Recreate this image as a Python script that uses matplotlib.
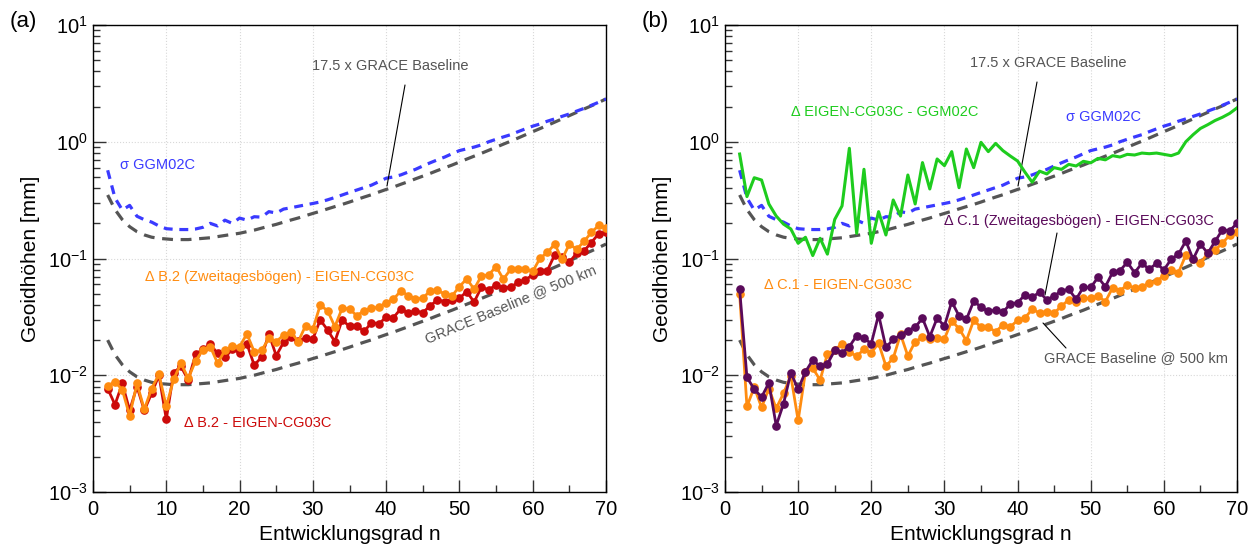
import numpy as np
import matplotlib
matplotlib.use("Agg")
import matplotlib.pyplot as plt
from matplotlib.ticker import LogLocator, MultipleLocator, NullFormatter

plt.rcParams['font.family'] = ['Liberation Sans', 'DejaVu Sans']
plt.rcParams['mathtext.fontset'] = 'custom'
plt.rcParams['mathtext.rm'] = 'Liberation Sans'
plt.rcParams['mathtext.it'] = 'Liberation Sans:italic'
plt.rcParams['mathtext.bf'] = 'Liberation Sans:bold'

# ---------------- data ----------------
degree = list(range(2, 71))
grace_factor = 17.5

grace_500km = [0.0200, 0.0150, 0.0123, 0.0107, 0.0097, 0.0091, 0.0087, 0.0085, 0.0084, 0.0083,
               0.0083, 0.0083, 0.0084, 0.0085, 0.0086, 0.0088, 0.0090, 0.0092, 0.0094, 0.0097,
               0.0100, 0.0104, 0.0108, 0.0112, 0.0117, 0.0122, 0.0127, 0.0133, 0.0139, 0.0145,
               0.0152, 0.0159, 0.0166, 0.0174, 0.0183, 0.0192, 0.0201, 0.0212, 0.0223, 0.0234,
               0.0247, 0.0260, 0.0275, 0.0290, 0.0306, 0.0324, 0.0342, 0.0361, 0.0383, 0.0406,
               0.0430, 0.0455, 0.0483, 0.0513, 0.0545, 0.0578, 0.0615, 0.0655, 0.0697, 0.0741,
               0.0789, 0.0841, 0.0897, 0.0957, 0.102, 0.109, 0.116, 0.124, 0.133]

sigma_ggm02c = [0.57, 0.33, 0.26, 0.285, 0.23, 0.215, 0.205, 0.19, 0.18, 0.178,
                0.177, 0.177, 0.179, 0.185, 0.20, 0.19, 0.213, 0.200, 0.222, 0.213,
                0.228, 0.226, 0.252, 0.245, 0.265, 0.272, 0.280, 0.288, 0.296, 0.305,
                0.318, 0.333, 0.350, 0.368, 0.386, 0.405, 0.425, 0.455, 0.487, 0.50,
                0.52, 0.55, 0.58, 0.62, 0.66, 0.70, 0.74, 0.79, 0.84, 0.87,
                0.90, 0.94, 1.00, 1.05, 1.10, 1.15, 1.22, 1.29, 1.36, 1.42,
                1.50, 1.57, 1.65, 1.73, 1.83, 1.93, 2.05, 2.18, 2.32]

b2_eigen = [0.0077, 0.0056, 0.0085, 0.0050, 0.0080, 0.0050, 0.0070, 0.0100, 0.0042, 0.0105,
            0.0119, 0.0091, 0.0151, 0.0167, 0.0184, 0.0154, 0.0142, 0.0167, 0.0156, 0.0186,
            0.0122, 0.0143, 0.0226, 0.0147, 0.0191, 0.0212, 0.0197, 0.0208, 0.0204, 0.0298,
            0.0245, 0.0194, 0.0298, 0.0262, 0.0265, 0.0237, 0.0283, 0.0276, 0.0314, 0.0312,
            0.0371, 0.0340, 0.0356, 0.0344, 0.0393, 0.0442, 0.0428, 0.0442, 0.0457, 0.0521,
            0.0423, 0.0568, 0.0539, 0.0594, 0.0557, 0.0568, 0.0623, 0.0656, 0.0724, 0.0789,
            0.0789, 0.1075, 0.1026, 0.093, 0.111, 0.116, 0.137, 0.163, 0.168]

b2_zweitag = [0.0081, 0.0088, 0.0075, 0.0045, 0.0085, 0.0051, 0.0077, 0.0102, 0.0054, 0.0092,
              0.0127, 0.0094, 0.0133, 0.0165, 0.0176, 0.0127, 0.0163, 0.0178, 0.0176, 0.0226,
              0.0159, 0.0163, 0.0207, 0.0194, 0.0221, 0.0235, 0.0194, 0.0265, 0.0248, 0.0398,
              0.0358, 0.0261, 0.0375, 0.0370, 0.0323, 0.0358, 0.0375, 0.0383, 0.0419, 0.0448,
              0.0528, 0.0482, 0.0451, 0.0457, 0.0528, 0.0532, 0.0498, 0.0479, 0.0575, 0.0670,
              0.0546, 0.0710, 0.0724, 0.0853, 0.0665, 0.0811, 0.0811, 0.0811, 0.0774, 0.1006,
              0.1126, 0.1327, 0.0986, 0.1327, 0.120, 0.140, 0.167, 0.192, 0.182]

eigen_minus_ggm = [0.785, 0.339, 0.492, 0.470, 0.293, 0.231, 0.197, 0.179, 0.135, 0.152,
                   0.106, 0.149, 0.109, 0.216, 0.282, 0.879, 0.164, 0.581, 0.135, 0.252,
                   0.159, 0.317, 0.231, 0.519, 0.293, 0.663, 0.394, 0.712, 0.624, 0.823,
                   0.404, 0.867, 0.600, 0.989, 0.823, 0.968, 0.839, 0.755, 0.684, 0.55,
                   0.45, 0.56, 0.53, 0.60, 0.58, 0.64, 0.62, 0.68, 0.66, 0.72,
                   0.70, 0.76, 0.74, 0.78, 0.77, 0.80, 0.79, 0.80, 0.78, 0.76,
                   0.80, 1.00, 1.15, 1.30, 1.40, 1.52, 1.62, 1.75, 1.95]

c1_eigen = [0.050, 0.0054, 0.0079, 0.0053, 0.0077, 0.0052, 0.0070, 0.0099, 0.0041, 0.0107,
            0.0115, 0.0091, 0.0152, 0.0165, 0.0185, 0.0159, 0.0145, 0.0167, 0.0156, 0.0188,
            0.0120, 0.0140, 0.0224, 0.0146, 0.0194, 0.0211, 0.0203, 0.0207, 0.0205, 0.0292,
            0.0251, 0.0198, 0.0295, 0.0258, 0.0258, 0.0236, 0.0270, 0.0260, 0.0295, 0.0310,
            0.0367, 0.0342, 0.0351, 0.0340, 0.0392, 0.0442, 0.0427, 0.0456, 0.0456, 0.0478,
            0.0427, 0.0562, 0.0530, 0.0594, 0.0556, 0.0574, 0.0614, 0.0643, 0.0710, 0.0798,
            0.0757, 0.107, 0.0984, 0.091, 0.111, 0.1185, 0.135, 0.159, 0.168]

c1_zweitag = [0.0544, 0.0096, 0.0076, 0.0065, 0.0086, 0.0037, 0.0057, 0.0105, 0.0076, 0.0107,
              0.0135, 0.0119, 0.0125, 0.0163, 0.0156, 0.0176, 0.0218, 0.0207, 0.0187, 0.0330,
              0.0173, 0.0203, 0.0221, 0.0241, 0.0258, 0.0308, 0.0214, 0.0308, 0.0264, 0.0427,
              0.0322, 0.0301, 0.0430, 0.0385, 0.0352, 0.0362, 0.0347, 0.0408, 0.0419, 0.0487,
              0.0465, 0.0515, 0.0442, 0.0478, 0.0527, 0.0545, 0.0448, 0.0568, 0.0565, 0.0690,
              0.0574, 0.0762, 0.0787, 0.0929, 0.0757, 0.0910, 0.0809, 0.0910, 0.0798, 0.0986,
              0.109, 0.141, 0.0986, 0.133, 0.111, 0.140, 0.176, 0.173, 0.200]

xticks = [0, 10, 20, 30, 40, 50, 60, 70]

# ---------------- styles ----------------
GREY = '#555555'
BLUE = '#3a3aff'
RED = '#cc0a0a'
ORANGE = '#ff8c10'
PURPLE = '#5a0a5a'
GREEN = '#1ecc1e'

W, H = 1257, 544
fig = plt.figure(figsize=(W / 100, H / 100), dpi=100)

TOP, BOT = 25, 492
panels = [(93, 606), (725, 1237)]
axes = []
for (l, r) in panels:
    ax = fig.add_axes([l / W, 1 - BOT / H, (r - l) / W, (BOT - TOP) / H])
    axes.append(ax)

deg = np.array(degree)
g500 = np.array(grace_500km)
g_up = g500 * grace_factor

def style(ax):
    ax.set_yscale('log')
    ax.set_xlim(0, 70)
    ax.set_ylim(1e-3, 1e1)
    ax.set_xticks(xticks)
    ax.xaxis.set_minor_locator(MultipleLocator(5))
    ax.yaxis.set_major_locator(LogLocator(base=10, numticks=10))
    ax.yaxis.set_minor_locator(LogLocator(base=10, subs=np.arange(2, 10), numticks=20))
    ax.yaxis.set_minor_formatter(NullFormatter())
    ax.tick_params(which='both', direction='in', top=False, right=False, labelsize=14.5,
                   width=1.0, color='#333333')
    ax.tick_params(which='major', length=9)
    ax.tick_params(which='minor', length=5)
    ax.tick_params(axis='x', which='major', pad=6)
    ax.grid(True, which='major', color='#d8d8d8', linestyle=':', linewidth=0.8)
    for s in ax.spines.values():
        s.set_linewidth(1.0)
    ax.set_xlabel('Entwicklungsgrad n', fontsize=15, labelpad=4)
    ax.set_ylabel('Geoidhöhen [mm]', fontsize=15, labelpad=6)

dash_grey = dict(color=GREY, lw=2.3, linestyle=(0, (3.4, 2.4)))
dash_blue = dict(color=BLUE, lw=2.3, linestyle=(0, (2.8, 2.1)))

def afrac(ax_idx, px, py):
    l, r = panels[ax_idx]
    return ((px - l) / (r - l), (BOT - py) / (BOT - TOP))

def label(ax_idx, px, py, s, color, size=10.5, rot=0):
    ax = axes[ax_idx]
    x, y = afrac(ax_idx, px, py)
    ax.text(x, y, s, transform=ax.transAxes, color=color, fontsize=size,
            ha='center', va='center', rotation=rot, rotation_mode='anchor')

def leader(ax_idx, p0, p1):
    ax = axes[ax_idx]
    ax.annotate('', xy=afrac(ax_idx, *p1), xytext=afrac(ax_idx, *p0),
                xycoords='axes fraction', textcoords='axes fraction',
                arrowprops=dict(arrowstyle='-', lw=0.8, color='black',
                                shrinkA=0, shrinkB=0))

# ----- panel (a)
ax = axes[0]
style(ax)
ax.plot(deg, g_up, **dash_grey, zorder=2)
ax.plot(deg, g500, **dash_grey, zorder=2)
ax.plot(deg, sigma_ggm02c, **dash_blue, zorder=3)
ax.plot(deg, b2_eigen, color=RED, lw=2.0, marker='o', ms=5.2, zorder=4)
ax.plot(deg, b2_zweitag, color=ORANGE, lw=2.0, marker='o', ms=5.2, zorder=5)

label(0, 157, 165, 'σ GGM02C', BLUE)
label(0, 390, 66, '17.5 x GRACE Baseline', GREY)
leader(0, (405, 85), (387, 186))
label(0, 280, 277, 'Δ B.2 (Zweitagesbögen) - EIGEN-CG03C', ORANGE)
label(0, 511, 304, 'GRACE Baseline @ 500 km', GREY, rot=22.5)
label(0, 258, 423, 'Δ B.2 - EIGEN-CG03C', RED)

# ----- panel (b)
ax = axes[1]
style(ax)
ax.plot(deg, g_up, **dash_grey, zorder=2)
ax.plot(deg, g500, **dash_grey, zorder=2)
ax.plot(deg, sigma_ggm02c, **dash_blue, zorder=3)
ax.plot(deg, eigen_minus_ggm, color=GREEN, lw=2.2, zorder=4)
ax.plot(deg, c1_eigen, color=ORANGE, lw=2.0, marker='o', ms=5.2, zorder=5)
ax.plot(deg, c1_zweitag, color=PURPLE, lw=2.0, marker='o', ms=5.2, zorder=6)

label(1, 885, 112, 'Δ EIGEN-CG03C - GGM02C', GREEN)
label(1, 1048, 63, '17.5 x GRACE Baseline', GREY)
leader(1, (1037, 82), (1018, 186))
label(1, 1104, 117, 'σ GGM02C', BLUE)
label(1, 1079, 221, 'Δ C.1 (Zweitagesbögen) - EIGEN-CG03C', PURPLE)
leader(1, (1057, 233), (1045, 295))
label(1, 838, 285, 'Δ C.1 - EIGEN-CG03C', ORANGE)
label(1, 1136, 358, 'GRACE Baseline @ 500 km', GREY)
leader(1, (1043, 323), (1066, 348))

fig.text(23 / W, 1 - 22 / H, '(a)', fontsize=16, ha='center', va='center')
fig.text(655 / W, 1 - 22 / H, '(b)', fontsize=16, ha='center', va='center')

fig.savefig('out.png', dpi=100)
